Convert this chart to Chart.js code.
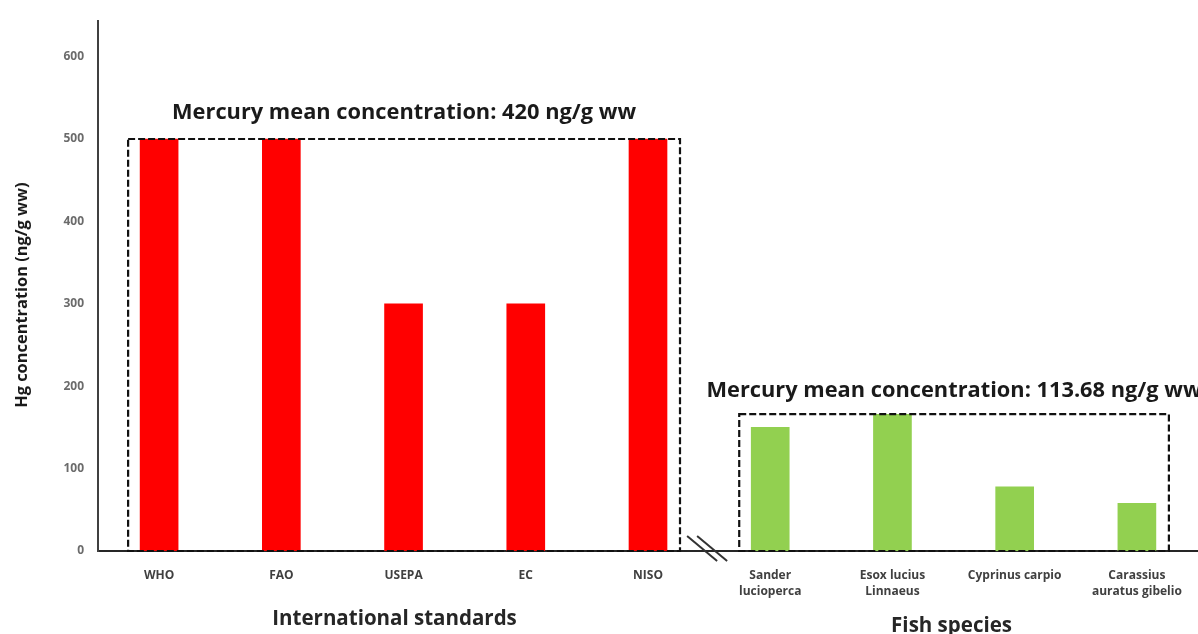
<!DOCTYPE html>
<html>
<head>
<meta charset="utf-8">
<script src="https://cdn.jsdelivr.net/npm/chart.js"></script>
<style>
  html, body { margin: 0; padding: 0; background: #fff; }
  #wrap { width: 1198px; height: 634px; position: relative; }
</style>
</head>
<body>
<div id="wrap"><canvas id="chart"></canvas></div>
<script>
// data
const standardLabels = ['WHO', 'FAO', 'USEPA', 'EC', 'NISO'];
const standardValues = [500, 500, 300, 300, 500];
const fishLabels = [['Sander', 'lucioperca'], ['Esox lucius', 'Linnaeus'], 'Cyprinus carpio', ['Carassius', 'auratus gibelio']];
const fishValues = [150, 166, 78, 58];
const yTicks = [0, 100, 200, 300, 400, 500, 600];
const yMax = 643;
const groupTitles = ['Mercury mean concentration: 420 ng/g ww', 'Mercury mean concentration: 113.68 ng/g ww'];
const groupNames = ['International standards', 'Fish species'];
const yTitle = 'Hg concentration (ng/g ww)';

const FONT = '"Open Sans", "DejaVu Sans", sans-serif';

// font size so that text takes a given width
function fitSize(ctx, text, width) {
  ctx.font = 'bold 100px ' + FONT;
  return 100 * width / ctx.measureText(text).width;
}

// boxes, titles, group names, axis break
const overlay = {
  id: 'overlay',
  afterDatasetsDraw(chart) {
    const { ctx, chartArea } = chart;
    const x = chart.scales.x, y = chart.scales.y;
    const groups = [
      { from: 0, to: standardLabels.length - 1, values: standardValues },
      { from: standardLabels.length, to: standardLabels.length + fishLabels.length - 1, values: fishValues }
    ];
    const titleSize = fitSize(ctx, groupTitles[0], 465);
    const nameSize = fitSize(ctx, groupNames[0], 245);

    ctx.save();
    groups.forEach((g, i) => {
      const left = x.getPixelForValue(g.from) - 31;
      const right = x.getPixelForValue(g.to) + 32;
      const top = y.getPixelForValue(Math.max(...g.values));
      const bottom = y.getPixelForValue(0);

      ctx.setLineDash([7, 3]);
      ctx.lineWidth = 2.2;
      ctx.strokeStyle = '#111';
      ctx.strokeRect(left, top, right - left, bottom - top);
      ctx.setLineDash([]);

      ctx.fillStyle = '#1a1a1a';
      ctx.textAlign = 'center';
      ctx.textBaseline = 'middle';
      ctx.font = 'bold ' + titleSize.toFixed(1) + 'px ' + FONT;
      ctx.fillText(groupTitles[i], (left + right) / 2, top - (i === 0 ? 26 : 23));

      const mid = (x.getPixelForValue(g.from) + x.getPixelForValue(g.to)) / 2;
      ctx.font = 'bold ' + nameSize.toFixed(1) + 'px ' + FONT;
      ctx.fillStyle = '#262626';
      ctx.fillText(groupNames[i], mid + (i === 0 ? -9 : -2), i === 0 ? 619 : 626);
    });

    // axis break marks between the two groups
    const bx = (x.getPixelForValue(standardLabels.length - 1) + x.getPixelForValue(standardLabels.length)) / 2 - 2;
    const by = chartArea.bottom - 2;
    ctx.strokeStyle = '#333';
    ctx.lineWidth = 2;
    [-5, 5].forEach(o => {
      ctx.beginPath();
      ctx.moveTo(bx + o - 15, by - 13);
      ctx.lineTo(bx + o + 15, by + 12);
      ctx.stroke();
    });

    // y title
    ctx.translate(22, (chartArea.top + chartArea.bottom) / 2 + 9);
    ctx.rotate(-Math.PI / 2);
    ctx.font = 'bold ' + fitSize(ctx, yTitle, 225).toFixed(1) + 'px ' + FONT;
    ctx.fillStyle = '#1a1a1a';
    ctx.textAlign = 'center';
    ctx.textBaseline = 'middle';
    ctx.fillText(yTitle, 0, 0);
    ctx.restore();
  }
};

const ctx = document.getElementById('chart').getContext('2d');
new Chart(ctx, {
  type: 'bar',
  data: {
    labels: standardLabels.concat(fishLabels),
    datasets: [
      {
        label: 'International standards',
        data: standardValues.concat(fishLabels.map(() => null)),
        backgroundColor: '#FF0000'
      },
      {
        label: 'Fish species',
        data: standardLabels.map(() => null).concat(fishValues),
        backgroundColor: '#92D050'
      }
    ]
  },
  options: {
    responsive: true,
    maintainAspectRatio: false,
    animation: false,
    grouped: false,
    barThickness: 38,
    layout: { padding: { top: 16, right: 0, bottom: 0, left: 0 } },
    plugins: {
      legend: { display: false },
      tooltip: { enabled: false }
    },
    scales: {
      x: {
        grid: { display: false, drawTicks: false },
        border: { display: true, color: '#262626', width: 2 },
        ticks: {
          autoSkip: false,
          maxRotation: 0,
          padding: 16,
          color: '#404040',
          font: { family: FONT, size: 12, weight: 'bold', lineHeight: 1.35 }
        },
        afterFit: (s) => { s.height = 83; }
      },
      y: {
        min: 0,
        max: yMax,
        grid: { display: false, drawTicks: false },
        border: { display: true, color: '#404040', width: 2 },
        afterBuildTicks: (s) => { s.ticks = yTicks.map(v => ({ value: v })); },
        ticks: {
          padding: 14,
          color: '#6b6b6b',
          font: { family: FONT, size: 12, weight: 'bold' }
        },
        afterFit: (s) => { s.width = 98; }
      }
    }
  },
  plugins: [overlay]
});
</script>
</body>
</html>
